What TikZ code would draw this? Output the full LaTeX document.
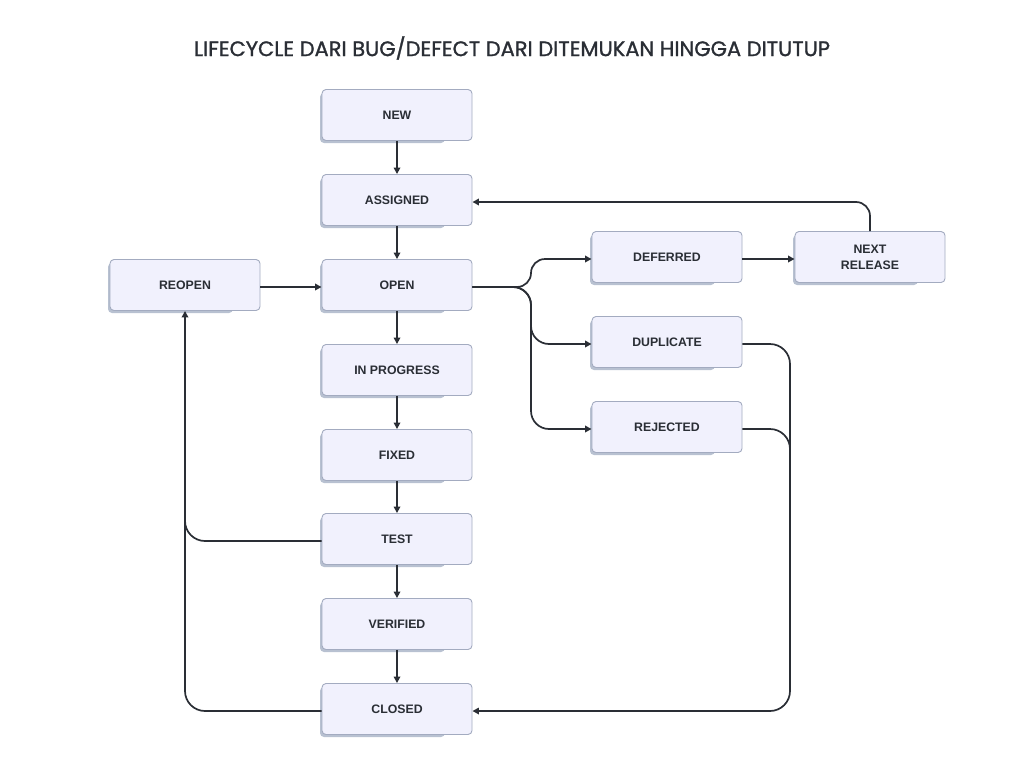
\documentclass[tikz,border=0pt]{standalone}
\usepackage{fontspec}
\setmainfont{Liberation Sans}
\newfontfamily\titlefont{Poppins}[FakeBold=1.2]
\usetikzlibrary{arrows.meta,calc}
\definecolor{boxfill}{HTML}{F1F1FD}
\definecolor{boxdraw}{HTML}{A3ABC0}
\definecolor{shadowc}{HTML}{B8C1D1}
\definecolor{linec}{HTML}{2A2E35}
\definecolor{textc}{HTML}{2A2E35}
\tikzset{
  state/.style={draw=boxdraw, fill=boxfill, line width=0.9pt, rounded corners=4pt,
    minimum width=150pt, minimum height=51pt, inner sep=0pt, align=center,
    font=\fontsize{12.3}{16}\selectfont\bfseries, text=textc},
  conn/.style={draw=linec, line width=1.7pt, -{Triangle[length=6.5pt,width=6.5pt]}},
  conn0/.style={draw=linec, line width=1.7pt},
}
\newcommand{\statebox}[3]{%
  \fill[shadowc, rounded corners=4pt] ($(#2)+(-77,-22)$) rectangle ($(#2)+(48,28)$);
  \node[state] (#1) at (#2) {#3};
  \coordinate (#1W) at ($(#1.west)+(0,2)$);
  \coordinate (#1E) at ($(#1.east)+(0,2)$);
}
\begin{document}
\begin{tikzpicture}[x=1pt,y=-1pt]
\useasboundingbox[fill=white] (0,0) rectangle (1024,768);
\node[font=\titlefont\fontsize{21}{24}\selectfont, text=textc] (title) at (512,48) {LIFECYCLE DARI BUG/DEFECT DARI DITEMUKAN HINGGA DITUTUP};

\statebox{new}{397,115}{NEW}
\statebox{assigned}{397,200}{ASSIGNED}
\statebox{open}{397,285}{OPEN}
\statebox{inprog}{397,370}{IN PROGRESS}
\statebox{fixed}{397,455}{FIXED}
\statebox{test}{397,539}{TEST}
\statebox{verified}{397,624}{VERIFIED}
\statebox{closed}{397,709}{CLOSED}
\statebox{reopen}{185,285}{REOPEN}
\statebox{deferred}{667,257}{DEFERRED}
\statebox{next}{870,257}{NEXT\\RELEASE}
\statebox{dup}{667,342}{DUPLICATE}
\statebox{rej}{667,427}{REJECTED}

\coordinate (bx) at (531,287);
\coordinate (rx) at (790,600);
\coordinate (lx) at (185,490);

\draw[conn] (new) -- (assigned);
\draw[conn] (assigned) -- (open);
\draw[conn] (open) -- (inprog);
\draw[conn] (inprog) -- (fixed);
\draw[conn] (fixed) -- (test);
\draw[conn] (test) -- (verified);
\draw[conn] (verified) -- (closed);
\draw[conn] (reopenE) -- (openW);
\draw[conn] (deferredE) -- (nextW);

\draw[conn, rounded corners=14pt] (openE) -- (bx) -- (bx |- deferredW) -- (deferredW);
\draw[conn, rounded corners=18pt] (openE) -- (bx) -- (bx |- dupW) -- (dupW);
\draw[conn, rounded corners=18pt] (openE) -- (bx) -- (bx |- rejW) -- (rejW);

\draw[conn, rounded corners=14pt] (next.north) -- (next.north |- assignedE) -- (assignedE);

\draw[conn, rounded corners=20pt] (dupE) -- (rx |- dupE) -- (rx |- closedE) -- (closedE);
\draw[conn0, rounded corners=20pt] (rejE) -- (rx |- rejE) -- (rx);

\draw[conn0, rounded corners=20pt] (closedW) -- (lx |- closedW) -- (lx);
\draw[conn, rounded corners=20pt] (testW) -- (lx |- testW) -- (reopen.south);
\end{tikzpicture}
\end{document}
